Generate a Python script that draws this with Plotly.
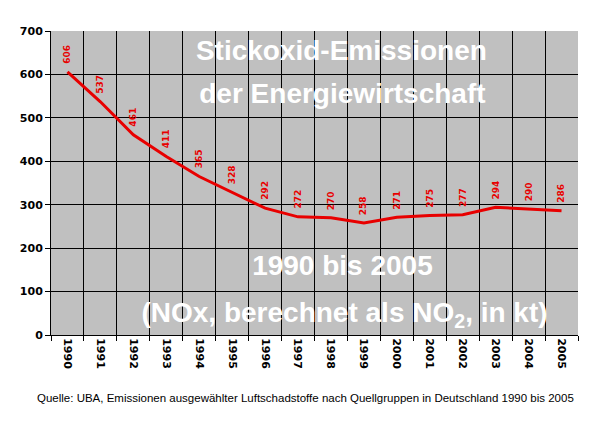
import plotly.graph_objects as go

years = [str(y) for y in range(1990, 2006)]
nox_kt = [606, 537, 461, 411, 365, 328, 292, 272, 270, 258, 271, 275, 277, 294, 290, 286]

title_lines = ["Stickoxid-Emissionen", "der Energiewirtschaft",
               "1990 bis 2005", "(NOx, berechnet als NO<sub>2</sub>, in kt)"]
title_x = [0.551, 0.553, 0.553, 0.557]
title_y = [0.928, 0.787, 0.220, 0.066]
source_text = ("Quelle: UBA, Emissionen ausgewählter Luftschadstoffe nach "
               "Quellgruppen in Deutschland 1990 bis 2005")

fig = go.Figure()

# Headline text on the hidden base axes, so the grid of the overlay axes
# is drawn across it like in the original
fig.add_trace(go.Scatter(
    x=title_x, y=title_y, text=title_lines, mode='text',
    textposition='middle center',
    textfont=dict(family='Liberation Sans', size=28, color='white', weight='bold'),
    hoverinfo='skip', showlegend=False
))

# Emissions line on the overlay axes
fig.add_trace(go.Scatter(
    x=years, y=nox_kt, mode='lines', xaxis='x2', yaxis='y2',
    line=dict(color='#E80000', width=3),
    showlegend=False
))

# Rotated value labels above each point (x as category index)
for i, val in enumerate(nox_kt):
    fig.add_annotation(
        x=i, y=val, xref='x2', yref='y2', text=str(val), textangle=-90,
        showarrow=False, yanchor='bottom', yshift=6,
        font=dict(family='DejaVu Sans', size=9, color='#E80000', weight='bold')
    )

# Source note
fig.add_annotation(
    x=0.482, y=-0.207, xref='paper', yref='paper', text=source_text,
    showarrow=False, xanchor='center', yanchor='middle',
    font=dict(family='Liberation Sans', size=11.5, color='black')
)

# page body has an 8px margin, so the figure is 8px smaller on each side
fig.update_layout(
    width=592, height=418,
    margin=dict(l=36, r=22, t=23, b=91),
    paper_bgcolor='white', plot_bgcolor='#C0C0C0',
    xaxis=dict(range=[0, 1], visible=False, fixedrange=True),
    yaxis=dict(range=[0, 1], visible=False, fixedrange=True),
    xaxis2=dict(
        overlaying='x', anchor='y2', side='bottom',
        type='category', range=[-0.5, 15.5], tickson='boundaries', tickangle=90,
        showgrid=True, gridcolor='black', gridwidth=1,
        ticks='outside', ticklen=5, tickcolor='black',
        showline=True, linecolor='black', linewidth=1,
        tickfont=dict(family='DejaVu Sans', size=11, color='black', weight='bold'),
    ),
    yaxis2=dict(
        overlaying='y', anchor='x2', side='left',
        range=[0, 700], dtick=100,
        showgrid=True, gridcolor='black', gridwidth=1,
        ticks='outside', ticklen=5, tickcolor='black',
        showline=True, linecolor='black', linewidth=1,
        zeroline=False,
        tickfont=dict(family='DejaVu Sans', size=11, color='black', weight='bold'),
    ),
)

fig.write_html("out.html")
